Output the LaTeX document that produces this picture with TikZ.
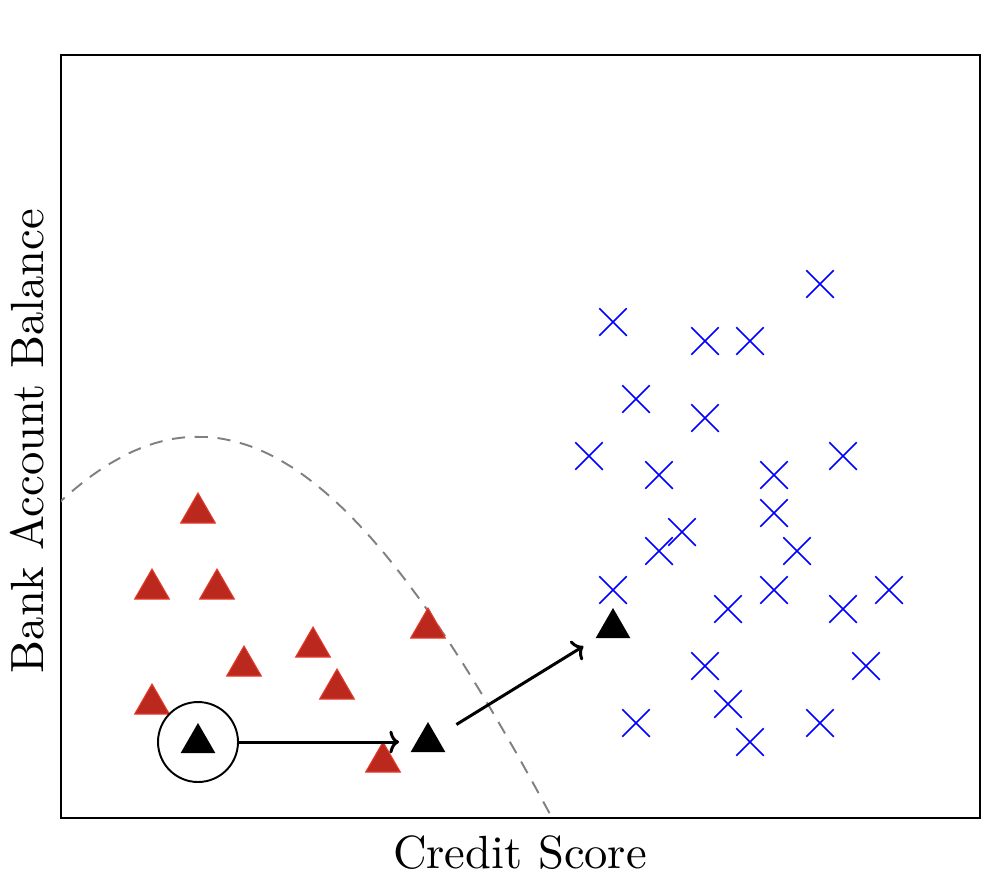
\documentclass[tikz,border=0pt]{standalone}
\usepackage{graphicx}
\usetikzlibrary{shapes.geometric,shapes.misc,arrows.meta}
\definecolor{tri}{RGB}{186,40,30}
\definecolor{triedge}{RGB}{228,58,42}
\definecolor{xblue}{RGB}{0,0,255}
\definecolor{curvegray}{RGB}{128,128,128}
\newcommand{\biglabel}[1]{\scalebox{2.65}{#1}}
\begin{document}
\begin{tikzpicture}[x=0.02cm,y=-0.02cm,
  redtri/.style={regular polygon, regular polygon sides=3, minimum size=0.8cm, inner sep=0pt, fill=tri, draw=triedge, line width=0.6pt},
  blacktri/.style={regular polygon, regular polygon sides=3, minimum size=0.8cm, inner sep=0pt, fill=black},
  xmark/.style={cross out, draw=xblue, minimum size=0.52cm, inner sep=0pt, line width=0.85pt},
  lbl/.style={font=\normalsize, inner sep=0pt},
  move/.style={line width=1.7pt, -{To[length=5.5pt,width=13pt]}},
  boundary/.style={curvegray, dash pattern=on 7.5pt off 5.5pt, line width=1.1pt}]
\useasboundingbox (0,0) rectangle (1000,890);
\draw[line width=1pt] (61,55) rectangle (980,818);
\begin{scope}
  \clip (61,55) rectangle (980,818);
  \draw[boundary] plot[domain=55:575, samples=80, variable=\t]
    ({\t},{437+1521*(1-exp(-((\t-198)/100)*((\t-198)/100)/43.46))});
\end{scope}
% red triangles
\node[redtri] (r1) at (198,513) {};
\node[redtri] (r2) at (152,589) {};
\node[redtri] (r3) at (217,589) {};
\node[redtri] (r4) at (244,666) {};
\node[redtri] (r5) at (313,647) {};
\node[redtri] (r6) at (337,689) {};
\node[redtri] (r7) at (152,704) {};
\node[redtri] (r8) at (428,628) {};
\node[redtri] (r9) at (383,762) {};
% blue crosses
\foreach \p [count=\i] in {(820,284),(613,322),(705,341),(750,341),(636,399),(705,418),
  (589,456),(843,456),(659,475),(774,475),(774,513),(682,532),(659,551),(797,551),
  (613,590),(774,590),(889,590),(728,609),(843,609),(705,666),(866,666),(728,704),
  (636,723),(820,723),(750,742)}
  \node[xmark] (x\i) at \p {};
% black triangles and moves
\node[blacktri] (b1) at (198,743) {};
\node[circle, draw, line width=1.1pt, minimum size=1.6cm, inner sep=0pt] (c) at (198,742) {};
\node[blacktri] (b2) at (428,742) {};
\node[blacktri] (b3) at (613,628) {};
\draw[move, shorten >=0.34cm] (c) -- (b2);
\draw[move, shorten <=0.46cm, shorten >=0.3cm] (b2) -- (b3);
% axis labels
\node[lbl, anchor=base] (xl) at (520,868) {\biglabel{Credit Score}};
\node[lbl, rotate=90, anchor=base] (yl) at (43,441) {\biglabel{Bank Account Balance}};
\end{tikzpicture}
\end{document}
